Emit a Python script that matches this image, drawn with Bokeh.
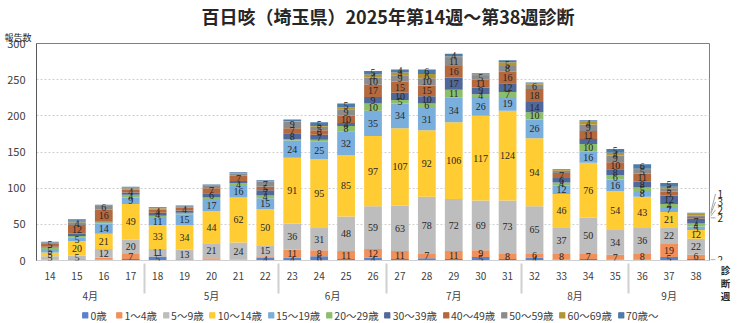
from bokeh.plotting import figure
from bokeh.layouts import row, column
from bokeh.models import (FactorRange, ColumnDataSource, Legend, LegendItem, LabelSet, Range1d,
                          FixedTicker, Title)
from bokeh.core.properties import value
from bokeh.embed import file_html
from bokeh.resources import INLINE

weeks = [str(w) for w in range(14, 39)]
months = ["4月"] * 4 + ["5月"] * 5 + ["6月"] * 4 + ["7月"] * 5 + ["8月"] * 4 + ["9月"] * 3

groups = ["0歳", "1～4歳", "5～9歳", "10～14歳", "15～19歳", "20～29歳",
          "30～39歳", "40～49歳", "50～59歳", "60～69歳", "70歳～"]

age_0 = [1, 1, 1, 2, 5, 1, 1, 0, 4, 4, 6, 2, 4, 2, 3, 2, 5, 2, 4, 1, 2, 1, 1, 5, 2]
age_1_4 = [0, 1, 3, 7, 0, 1, 2, 1, 2, 11, 8, 11, 12, 11, 7, 11, 9, 8, 6, 8, 7, 7, 8, 19, 6]
age_5_9 = [5, 5, 12, 20, 11, 13, 21, 24, 15, 36, 31, 48, 59, 63, 78, 72, 69, 73, 65, 37, 50, 34, 36, 22, 22]
age_10_14 = [5, 20, 21, 49, 33, 34, 44, 62, 50, 91, 95, 85, 97, 107, 92, 106, 117, 124, 94, 46, 76, 54, 43, 21, 12]
age_15_19 = [5, 5, 14, 9, 11, 15, 17, 16, 15, 24, 25, 32, 35, 34, 31, 34, 26, 19, 26, 12, 16, 16, 8, 7, 5]
age_20_29 = [2, 2, 2, 4, 2, 2, 2, 4, 4, 2, 2, 8, 10, 5, 6, 11, 4, 7, 10, 4, 10, 6, 5, 4, 4]
age_30_39 = [1, 3, 1, 3, 4, 3, 6, 3, 7, 8, 7, 4, 9, 10, 10, 17, 9, 12, 14, 6, 7, 8, 8, 12, 7]
age_40_49 = [5, 12, 16, 4, 4, 4, 7, 7, 5, 7, 6, 10, 17, 15, 15, 16, 11, 16, 18, 7, 11, 10, 11, 5, 2]
age_50_59 = [1, 4, 6, 2, 2, 2, 3, 3, 7, 9, 5, 9, 10, 9, 10, 11, 5, 8, 6, 3, 9, 9, 5, 5, 2]
age_60_69 = [0, 2, 0, 1, 1, 0, 1, 1, 1, 1, 1, 3, 4, 4, 6, 2, 2, 5, 2, 1, 4, 4, 2, 2, 3]
age_70 = [1, 2, 1, 1, 1, 1, 1, 1, 1, 2, 5, 5, 5, 4, 6, 4, 2, 3, 1, 1, 2, 5, 6, 5, 1]

series = [age_0, age_1_4, age_5_9, age_10_14, age_15_19, age_20_29,
          age_30_39, age_40_49, age_50_59, age_60_69, age_70]

colors = ["#5A82CB", "#F0905A", "#BDBDBD", "#FFCC33", "#79AEDD", "#8DBE6C",
          "#51699A", "#B5693F", "#8C8C8C", "#B39633", "#4E7BA8"]

y_ticks = [0, 50, 100, 150, 200, 250, 300]
Y_MAX = 300

FONT = "Noto Sans CJK JP"
TXT = "#262626"

W_MAIN, W_SIDE, H_MAIN, H_LEG = 710, 30, 307, 16
TOP, BOTTOM = 43, 47

x = list(zip(months, weeks))
data = {"x": x}
keys = []
for i, s in enumerate(series):
    k = "g%d" % i
    keys.append(k)
    data[k] = s
source = ColumnDataSource(data)

p = figure(width=W_MAIN, height=H_MAIN, x_range=FactorRange(*x, group_padding=0, factor_padding=0),
           y_range=Range1d(0, Y_MAX), output_backend="svg", toolbar_location=None,
           min_border_left=36, min_border_right=1, min_border_top=TOP, min_border_bottom=BOTTOM)

renderers = p.vbar_stack(keys, x="x", width=0.66, color=colors, source=source, line_color=None)

# segment labels
lx, ly, lt = [], [], []
cy, ct = [], []
n = len(weeks)
for j in range(n):
    cum = 0
    for i, s in enumerate(series):
        v = s[j]
        if v >= 4:
            lx.append(x[j]); ly.append(cum + v / 2); lt.append(str(v))
        elif v > 0 and j == n - 1:
            cy.append(cum + v / 2); ct.append(str(v))
        cum += v

lsrc = ColumnDataSource(dict(x=lx, y=ly, t=lt))
p.add_layout(LabelSet(x="x", y="y", text="t", source=lsrc, text_align="center", text_baseline="middle",
                      text_font=FONT, text_font_size="10px", text_color=TXT))

p.title.text = "百日咳（埼玉県）2025年第14週～第38週診断"
p.title.align = "left"
p.title.offset = 165
p.title.text_font = FONT
p.title.text_font_size = "18px"
p.title.text_font_style = "bold"
p.title.text_color = TXT
p.title.standoff = 0

ylab = Title(text="報告数", align="left", offset=-32, text_font=FONT, text_font_size="9px",
             text_color=TXT, text_font_style="normal", standoff=0)
p.above = [ylab] + list(p.above)

p.yaxis.ticker = FixedTicker(ticks=y_ticks)
p.yaxis.major_tick_line_color = None
p.yaxis.minor_tick_line_color = None
p.yaxis.axis_line_color = "#595959"
p.yaxis.major_label_text_font = FONT
p.yaxis.major_label_text_font_size = "11px"
p.yaxis.major_label_text_color = "#404040"

p.xaxis.major_tick_line_color = None
p.xaxis.axis_line_color = "#d0d0d0"
p.xaxis.major_label_text_font = FONT
p.xaxis.major_label_text_font_size = "10px"
p.xaxis.major_label_text_color = "#404040"
p.xaxis.group_text_font = FONT
p.xaxis.group_text_font_size = "10px"
p.xaxis.group_text_color = "#404040"
p.xaxis.group_text_font_style = "normal"
p.xaxis.separator_line_color = "#d0d0d0"

p.xgrid.grid_line_color = None
p.ygrid.grid_line_color = "#d0d0d0"
p.ygrid.grid_line_dash = "2 2"
p.outline_line_color = "#7f7f7f"

# side strip (its frame is aligned with the main frame): call-outs of the last week + axis title
side = figure(width=W_SIDE, height=H_MAIN, x_range=Range1d(0, W_SIDE), y_range=Range1d(0, Y_MAX),
              output_backend="svg", toolbar_location=None, min_border=0,
              x_axis_type=None, y_axis_type=None)
side.outline_line_color = None
side.grid.visible = False

placed = []
order = sorted(range(len(cy)), key=lambda k: cy[k])
cy2 = [0.0] * len(cy)
for k in order:
    yy = cy[k]
    if placed and yy < placed[-1] + 11:
        yy = placed[-1] + 11
    placed.append(yy)
    cy2[k] = yy

side.segment(x0=[0] * len(cy), y0=cy, x1=[5] * len(cy), y1=cy2, line_color="#a6a6a6", line_width=1)
side.text(x=[7] * len(cy), y=cy2, text=ct, text_font=value(FONT), text_font_size="10px",
          text_color=TXT, text_baseline="middle", text_align="left")

xlab = Title(text="診\n断\n週", align="center", text_font=FONT, text_font_size="9.5px", text_color=TXT,
             text_font_style="bold", standoff=0, text_line_height=0.95)
side.add_layout(xlab, "below")

# legend strip
leg = figure(width=W_MAIN + W_SIDE, height=H_LEG, x_range=Range1d(0, 1), y_range=Range1d(0, 1),
             output_backend="svg", toolbar_location=None, min_border=0, x_axis_type=None, y_axis_type=None)
leg.outline_line_color = None
leg.grid.visible = False
items = []
for g, c in zip(groups, colors):
    r = leg.rect(x=[-5], y=[-5], width=1, height=1, color=c)
    items.append(LegendItem(label=g, renderers=[r]))
legend = Legend(items=items, orientation="horizontal", padding=0, margin=0, spacing=5,
                label_text_font=FONT, label_text_font_size="10.5px", label_text_color="#404040",
                glyph_width=7, glyph_height=7, label_standoff=2, label_height=12,
                border_line_color=None, background_fill_alpha=0, location="center")
leg.add_layout(legend)

layout = column(row(p, side, spacing=0), leg, spacing=0)
open("out.html", "w").write(file_html(layout, INLINE))
